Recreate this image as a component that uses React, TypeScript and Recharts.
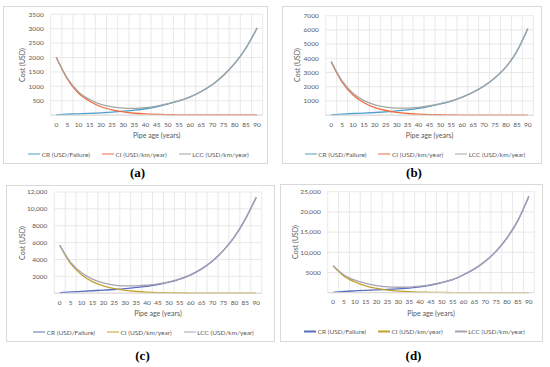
import React from "react";
import { LineChart, Line, XAxis, YAxis, CartesianGrid } from "recharts";

const AGES = [0, 5, 10, 15, 20, 25, 30, 35, 40, 45, 50, 55, 60, 65, 70, 75, 80, 85, 90];
const GRID_BOUNDS = [-2.5, 2.5, 7.5, 12.5, 17.5, 22.5, 27.5, 32.5, 37.5, 42.5, 47.5, 52.5, 57.5, 62.5, 67.5, 72.5, 77.5, 82.5, 87.5, 92.5];
const SERIES_NAMES = ["CR (USD/Failure)", "CI (USD/km/year)", "LCC (USD/km/year)"];

const CR_A = [10, 30, 45, 60, 80, 105, 135, 170, 220, 290, 385, 490, 630, 820, 1060, 1385, 1795, 2325, 3025];
const CI_A = [2000, 1250, 760, 480, 290, 180, 110, 65, 40, 25, 15, 10, 6, 5, 5, 5, 5, 5, 5];
const LCC_A = [2010, 1280, 805, 540, 370, 285, 245, 235, 260, 315, 400, 500, 636, 825, 1065, 1390, 1800, 2330, 3030];
const Y_TICKS_A = [0, 500, 1000, 1500, 2000, 2500, 3000, 3500];
const Y_LABELS_A = ["", "500", "1000", "1500", "2000", "2500", "3000", "3500"];

const CR_B = [30, 80, 120, 150, 190, 240, 300, 380, 480, 620, 790, 990, 1265, 1615, 2055, 2635, 3395, 4495, 6095];
const CI_B = [3750, 2330, 1420, 880, 540, 330, 200, 120, 75, 45, 30, 20, 12, 8, 6, 5, 5, 5, 5];
const LCC_B = [3780, 2410, 1540, 1030, 730, 570, 500, 500, 555, 665, 820, 1010, 1277, 1623, 2061, 2640, 3400, 4500, 6100];
const Y_TICKS_B = [0, 1000, 2000, 3000, 4000, 5000, 6000, 7000];
const Y_LABELS_B = ["", "1000", "2000", "3000", "4000", "5000", "6000", "7000"];

const CR_C = [50, 150, 220, 290, 360, 440, 540, 680, 820, 1020, 1300, 1680, 2180, 2880, 3830, 5080, 6680, 8780, 11380];
const CI_C = [5650, 3500, 2200, 1380, 860, 530, 330, 200, 125, 80, 50, 30, 20, 15, 10, 10, 10, 10, 10];
const LCC_C = [5700, 3650, 2420, 1670, 1220, 970, 870, 880, 945, 1100, 1350, 1710, 2200, 2895, 3840, 5090, 6690, 8790, 11390];
const Y_TICKS_C = [0, 2000, 4000, 6000, 8000, 10000, 12000];
const Y_LABELS_C = ["", "2000", "4000", "6000", "8000", "10,000", "12,000"];

const CR_D = [100, 300, 450, 600, 700, 800, 950, 1150, 1450, 1900, 2480, 3250, 4450, 5900, 7800, 10300, 13600, 17900, 23850];
const CI_D = [6600, 4100, 2650, 1700, 1050, 650, 400, 250, 160, 100, 60, 40, 30, 20, 15, 15, 15, 15, 15];
const LCC_D = [6700, 4400, 3100, 2300, 1750, 1450, 1350, 1400, 1610, 2000, 2540, 3290, 4480, 5920, 7815, 10315, 13615, 17915, 23865];
const Y_TICKS_D = [0, 5000, 10000, 15000, 20000, 25000];
const Y_LABELS_D = ["", "5000", "10,000", "15,000", "20,000", "25,000"];

const COLORS_AB = ["#4A9FCC", "#EE6C3C", "#A5A5A5"];
const COLORS_CD = ["#5A6EC0", "#C4A22E", "#A7A3B3"];

const FONT = "Lato, 'Open Sans', sans-serif";
const TEXT = "#595959";

type Box = { l: number; t: number; w: number; h: number };
type Plot = { l: number; t: number; r: number; b: number };

interface PanelProps {
  letter: string;
  box: Box;
  plot: Plot;
  cr: number[];
  ci: number[];
  lcc: number[];
  yTicks: number[];
  yLabels: string[];
  colors: string[];
  titleDx: number;
  letterY: number;
}

function Panel({ letter, box, plot, cr, ci, lcc, yTicks, yLabels, colors, titleDx, letterY }: PanelProps) {
  const rows = AGES.map((age, i) => ({ age, cr: cr[i], ci: ci[i], lcc: lcc[i] }));
  const yMax = yTicks[yTicks.length - 1];
  const plotCx = (plot.l + plot.r) / 2;
  const plotCy = (plot.t + plot.b) / 2;
  return (
    <>
      <div
        style={{
          position: "absolute",
          left: box.l,
          top: box.t,
          width: box.w,
          height: box.h,
          border: "1px solid #d9d9d9",
          boxSizing: "border-box",
          background: "#fff",
        }}
      />
      <div style={{ position: "absolute", left: box.l, top: box.t }}>
        <LineChart
          width={box.w}
          height={box.h}
          data={rows}
          margin={{ top: plot.t - box.t, right: box.l + box.w - plot.r, left: 0, bottom: 0 }}
          style={{ fontFamily: FONT }}
        >
          <CartesianGrid stroke="#e3e3e3" strokeWidth={0.8} verticalValues={GRID_BOUNDS} />
          <XAxis
            dataKey="age"
            type="number"
            domain={[-2.5, 92.5]}
            ticks={AGES}
            interval={0}
            height={box.t + box.h - plot.b}
            tickLine={false}
            tickSize={0}
            tickMargin={7}
            axisLine={{ stroke: "#d9d9d9" }}
            tick={{ fontSize: 6.5, fill: TEXT }}
          />
          <YAxis
            type="number"
            domain={[0, yMax]}
            ticks={yTicks}
            interval={0}
            width={plot.l - box.l}
            tickLine={false}
            tickSize={0}
            tickMargin={7}
            axisLine={false}
            tick={{ fontSize: 6.5, fill: TEXT }}
            tickFormatter={(v: number) => yLabels[yTicks.indexOf(v)] ?? ""}
          />
          <Line dataKey="cr" name={SERIES_NAMES[0]} type="monotone" stroke={colors[0]} strokeWidth={1.3} dot={false} isAnimationActive={false} />
          <Line dataKey="ci" name={SERIES_NAMES[1]} type="monotone" stroke={colors[1]} strokeWidth={1.3} dot={false} isAnimationActive={false} />
          <Line dataKey="lcc" name={SERIES_NAMES[2]} type="monotone" stroke={colors[2]} strokeWidth={1.3} dot={false} isAnimationActive={false} />
        </LineChart>
      </div>
      <div
        style={{
          position: "absolute",
          left: plot.l - titleDx,
          top: plotCy,
          transform: "translate(-50%, -50%) rotate(-90deg)",
          fontFamily: FONT,
          fontSize: 7,
          color: TEXT,
          whiteSpace: "nowrap",
        }}
      >
        Cost (USD)
      </div>
      <div
        style={{
          position: "absolute",
          left: plotCx,
          top: plot.b + 20,
          transform: "translate(-50%, -50%)",
          fontFamily: FONT,
          fontSize: 7,
          color: TEXT,
          whiteSpace: "nowrap",
        }}
      >
        Pipe age (years)
      </div>
      <div
        style={{
          position: "absolute",
          left: box.l,
          width: box.w,
          top: plot.b + 38.7,
          transform: "translateY(-50%)",
          display: "flex",
          justifyContent: "center",
          gap: 12,
          fontFamily: FONT,
          fontSize: 6.5,
          color: TEXT,
          whiteSpace: "nowrap",
          paddingLeft: 6,
          boxSizing: "border-box",
        }}
      >
        {SERIES_NAMES.map((name, i) => (
          <div key={name} style={{ display: "flex", alignItems: "center" }}>
            <span style={{ display: "inline-block", width: 12, height: 1.5, background: colors[i], marginRight: 1.5 }} />
            <span>{name}</span>
          </div>
        ))}
      </div>
      <div
        style={{
          position: "absolute",
          left: box.l + box.w / 2 + 2,
          top: letterY,
          transform: "translate(-50%, -50%)",
          fontFamily: "'Liberation Serif', 'DejaVu Serif', serif",
          fontWeight: "bold",
          fontSize: 13,
          color: "#000",
        }}
      >
        {letter}
      </div>
    </>
  );
}

export default function App() {
  return (
    <div style={{ position: "absolute", left: 0, top: 0, width: 550, height: 367, background: "#fff", overflow: "hidden" }}>
      <Panel
        letter="(a)"
        box={{ l: 3, t: 6, w: 265, h: 158 }}
        plot={{ l: 50.7, t: 14.3, r: 262.7, b: 115.1 }}
        cr={CR_A}
        ci={CI_A}
        lcc={LCC_A}
        yTicks={Y_TICKS_A}
        yLabels={Y_LABELS_A}
        colors={COLORS_AB}
        titleDx={29}
        letterY={173}
      />
      <Panel
        letter="(b)"
        box={{ l: 282, t: 6, w: 260, h: 158 }}
        plot={{ l: 325.7, t: 15.7, r: 533.3, b: 115.2 }}
        cr={CR_B}
        ci={CI_B}
        lcc={LCC_B}
        yTicks={Y_TICKS_B}
        yLabels={Y_LABELS_B}
        colors={COLORS_AB}
        titleDx={29}
        letterY={173}
      />
      <Panel
        letter="(c)"
        box={{ l: 6, t: 185, w: 269, h: 157 }}
        plot={{ l: 54.3, t: 192, r: 261.7, b: 293.2 }}
        cr={CR_C}
        ci={CI_C}
        lcc={LCC_C}
        yTicks={Y_TICKS_C}
        yLabels={Y_LABELS_C}
        colors={COLORS_CD}
        titleDx={32.6}
        letterY={356}
      />
      <Panel
        letter="(d)"
        box={{ l: 280, t: 184, w: 263, h: 158 }}
        plot={{ l: 327.7, t: 191.7, r: 534.3, b: 292.7 }}
        cr={CR_D}
        ci={CI_D}
        lcc={LCC_D}
        yTicks={Y_TICKS_D}
        yLabels={Y_LABELS_D}
        colors={COLORS_CD}
        titleDx={32.7}
        letterY={356}
      />
    </div>
  );
}
